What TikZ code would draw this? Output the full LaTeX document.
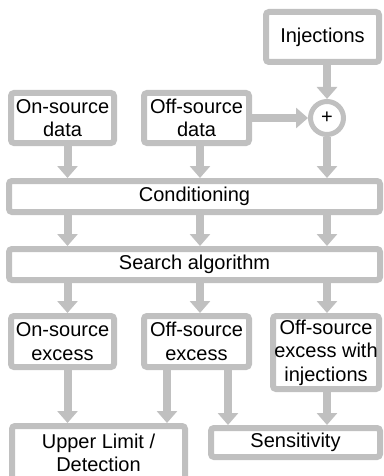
\documentclass[tikz,border=0pt]{standalone}
\usepackage{fontspec}
\setmainfont{Liberation Sans}
\usetikzlibrary{arrows.meta,calc}
\definecolor{boxgray}{RGB}{192,192,192}
\tikzset{
  blk/.style={draw=boxgray, line width=6pt, rounded corners=3pt, fill=white,
    inner sep=0pt, align=center, font=\fontsize{20}{23.5}\selectfont},
  sumnode/.style={circle, draw=boxgray, line width=5pt, fill=white, inner sep=0pt,
    minimum size=33pt, font=\fontsize{20}{20}\selectfont},
  arr/.style={draw=boxgray, line width=8pt,
    -{Triangle[width=20pt,length=12pt]}, boxgray}
}
\begin{document}
\begin{tikzpicture}[x=1pt,y=-1pt]
\useasboundingbox (0,0) rectangle (383,476);
\clip (0,0) rectangle (383,476);
% boxes
\node[blk, minimum width=113pt, minimum height=50pt] (inj) at (322.5,37) {Injections};
\node[blk, minimum width=103pt, minimum height=50pt] (ondata) at (62.5,118) {On-source\\data};
\node[blk, minimum width=105pt, minimum height=50pt] (offdata) at (196.5,118) {Off-source\\data};
\node[sumnode] (plus) at (327,118) {+};
\node[blk, minimum width=371pt, minimum height=31pt] (cond) at (194.5,196.5) {Conditioning};
\node[blk, minimum width=371pt, minimum height=31pt] (search) at (194.5,264.5) {Search algorithm};
\node[blk, minimum width=103pt, minimum height=51pt] (onex) at (62.5,341.5) {On-source\\excess};
\node[blk, minimum width=105pt, minimum height=51pt] (offex) at (196.5,341.5) {Off-source\\excess};
\node[blk, minimum width=106pt, minimum height=73pt] (offinj) at (326,352.5) {Off-source\\excess with\\injections};
\node[blk, minimum width=173pt, minimum height=54pt] (upper) at (98.5,453) {Upper Limit /\\Detection};
\node[blk, minimum width=169pt, minimum height=29pt] (sens) at (295.5,442.5) {Sensitivity};
% column coordinates
\coordinate (c1) at (67.5,0);
\coordinate (c2) at (200,0);
\coordinate (c3) at (327,0);
\coordinate (c4) at (167,0);
\coordinate (c5) at (228,0);
% connectors
\draw[arr] (inj.south -| plus) -- (plus.north);
\draw[arr] (offdata.east |- plus) -- (plus.west);
\draw[arr] (ondata.south -| c1) -- (cond.north -| c1);
\draw[arr] (offdata.south -| c2) -- (cond.north -| c2);
\draw[arr] (plus.south) -- (cond.north -| plus);
\draw[arr] (cond.south -| c1) -- (search.north -| c1);
\draw[arr] (cond.south -| c2) -- (search.north -| c2);
\draw[arr] (cond.south -| c3) -- (search.north -| c3);
\draw[arr] (search.south -| c1) -- (onex.north -| c1);
\draw[arr] (search.south -| c2) -- (offex.north -| c2);
\draw[arr] (search.south -| c3) -- (offinj.north -| c3);
\draw[arr] (onex.south -| c1) -- (upper.north -| c1);
\draw[arr] (offex.south -| c4) -- (upper.north -| c4);
\draw[arr] (offex.south -| c5) -- (sens.north -| c5);
\draw[arr] (offinj.south -| c3) -- (sens.north -| c3);
\end{tikzpicture}
\end{document}
